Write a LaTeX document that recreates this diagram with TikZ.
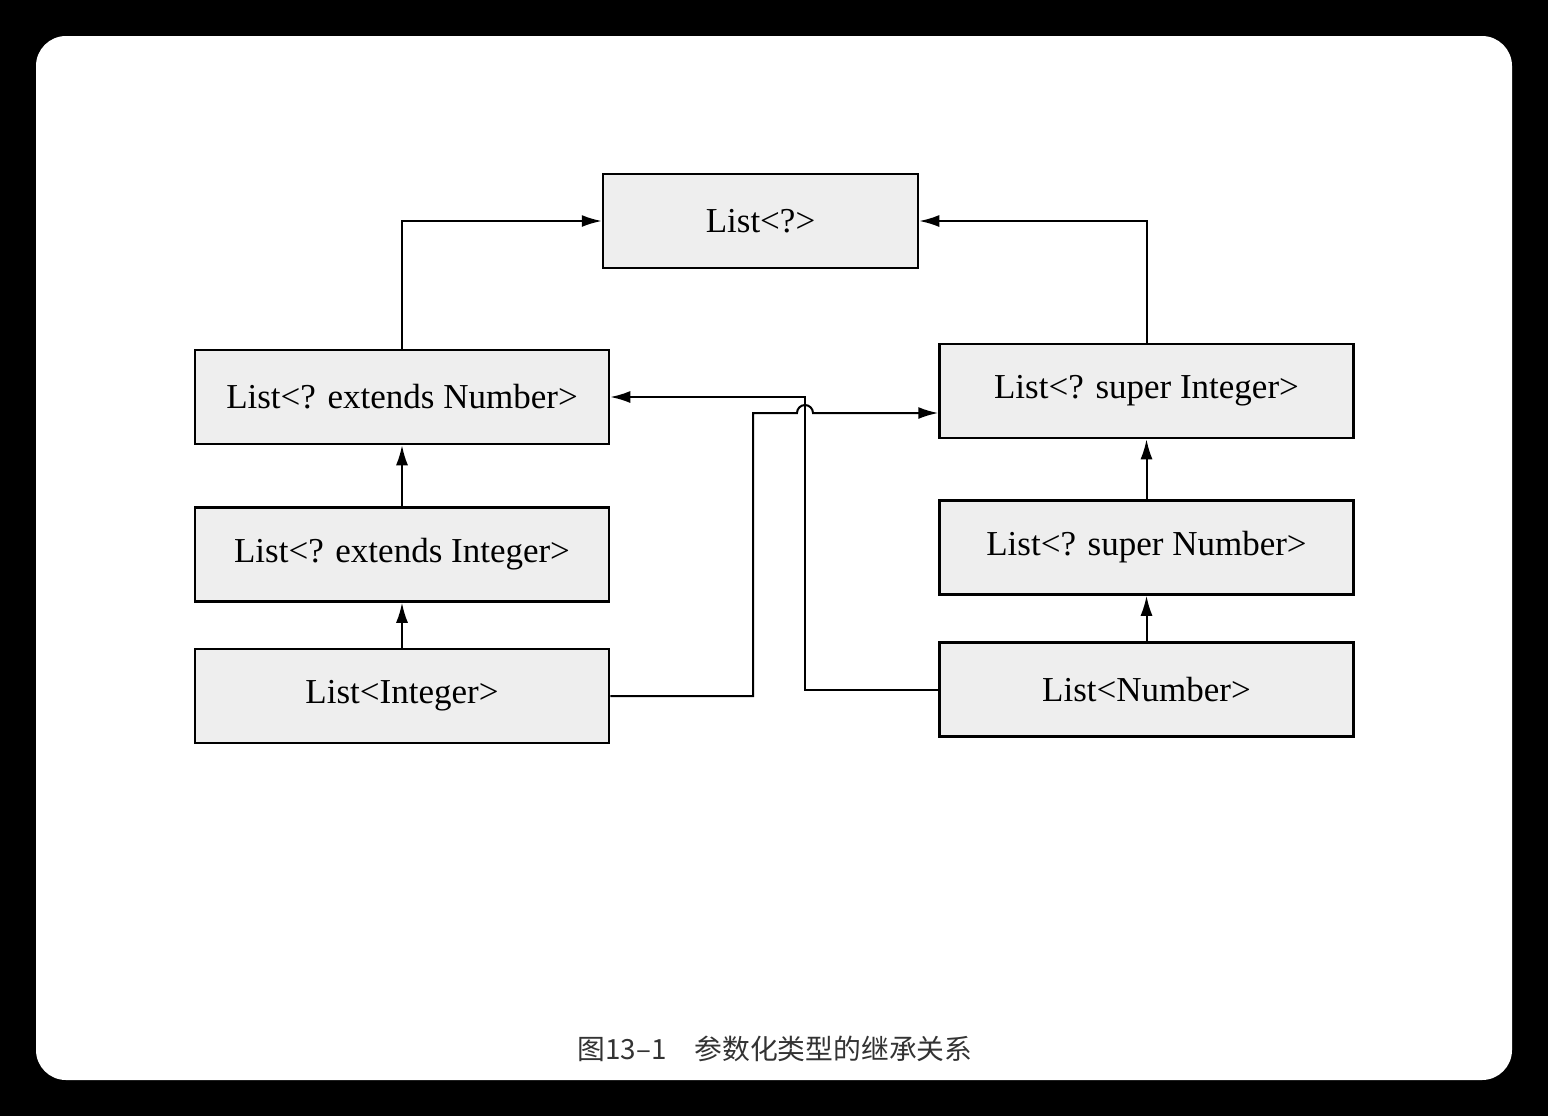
\documentclass[tikz,border=0pt]{standalone}
\usepackage{fontspec}
\setmainfont{Liberation Serif}
\newfontfamily\cjk{Noto Sans CJK SC}
\usetikzlibrary{arrows.meta}
\definecolor{boxfill}{HTML}{EEEEEE}
\definecolor{captc}{HTML}{333333}
\begin{document}
\begin{tikzpicture}[x=0.5pt,y=-0.5pt,
  tbox/.style={draw=black,line width=1.25pt,fill=boxfill,minimum width=207pt,minimum height=47pt,inner sep=0pt,
    font=\fontsize{17.5pt}{20pt}\selectfont},
  arr/.style={line width=1pt,-{Latex[length=10pt,width=6pt]}}]
\useasboundingbox (0,0) rectangle (1548,1116);
\fill[black] (0,0) rectangle (1548,1116);
\fill[white,rounded corners=15pt] (36,36) rectangle (1512,1080);
\node[tbox,minimum width=157.5pt] (top) at (760.5,221) {List<?>};
\node[tbox] (en) at (402,397) {List<? extends Number>};
\node[tbox] (ei) at (402,554.5) {List<? extends Integer>};
\node[tbox] (li) at (402,696) {List<Integer>};
\node[tbox] (si) at (1146.5,391) {List<? super Integer>};
\node[tbox] (sn) at (1146.5,547.5) {List<? super Number>};
\node[tbox] (ln) at (1146.5,689.5) {List<Number>};
\coordinate (bendA) at (753,413);
\coordinate (hopA) at (797,413);
\coordinate (bendB) at (805,397);
\draw[arr] (en.north) |- (top.west);
\draw[arr] (si.north) |- (top.east);
\draw[arr] (ei.north) -- (en.south);
\draw[arr] (li.north) -- (ei.south);
\draw[arr] (sn.north) -- (si.south);
\draw[arr] (ln.north) -- (sn.south);
\draw[arr] (ln.west) -| (bendB) -- (en.east);
\draw[arr] (li.east) -| (bendA) -- (hopA) arc[start angle=180,end angle=0,radius=4pt] -- ([yshift=-11pt]si.west);
\node[text=captc,font=\cjk\fontsize{13.9pt}{16pt}\selectfont] (cap) at (775,1049) {图13–1\quad 参数化类型的继承关系};
\end{tikzpicture}
\end{document}
